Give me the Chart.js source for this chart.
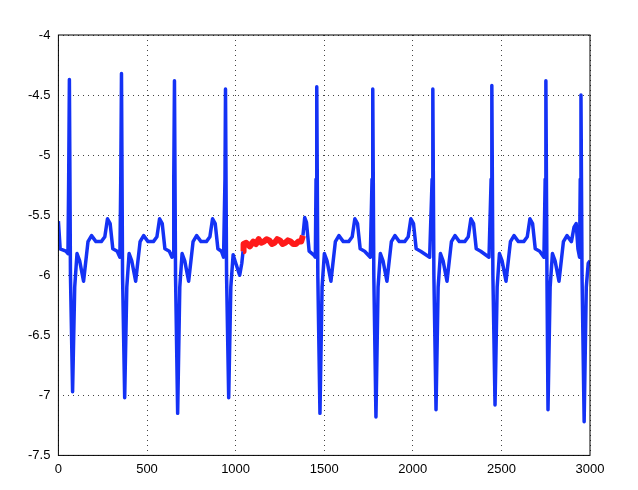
<!DOCTYPE html>
<html><head><meta charset="utf-8">
<script src="https://cdn.jsdelivr.net/npm/chart.js@4/dist/chart.umd.min.js"></script>
<style>body{margin:0;background:#fff}#wrap{width:638px;height:490px}</style>
</head><body><div id="wrap"><canvas id="c"></canvas></div>
<script>
const blueX = [0,10,42,54,58,62,68,80,92,105,120,142,167,187,212,242,262,277,292,307,332,347,
  352,356,362,374,386,399,414,436,461,481,506,536,556,571,586,601,626,641,
  647,651,655,661,673,685,698,713,735,760,780,805,835,855,870,885,900,920,932,
  940,943,949,961,973,986,1001,1023,1035,1042,1043,
  1380,1390,1400,1415,1440,1450,1454,1458,1464,1476,1488,1501,1516,1538,1563,1583,1608,1638,1658,1673,1688,1703,1728,1760,
  1770,1774,1780,1792,1804,1817,1832,1854,1879,1899,1924,1954,1974,1989,2004,2019,2044,2095,
  2109,2113,2119,2131,2143,2156,2171,2193,2218,2238,2263,2293,2313,2328,2343,2358,2383,2430,
  2442,2446,2452,2464,2476,2489,2504,2526,2551,2571,2596,2626,2646,2661,2676,2691,2716,2740,
  2747,2751,2757,2763,2775,2788,2803,2825,2850,2870,2895,2910,2922,2932,2941,2945,2949,2955,2967,2979,2990,3000];
const blueY = [-5.55,-5.78,-5.8,-5.82,-5.2,-4.37,-6.0,-6.97,-6.1,-5.82,-5.88,-6.05,-5.72,-5.67,-5.72,-5.72,-5.68,-5.53,-5.57,-5.78,-5.8,-5.85,
  -5.2,-4.32,-6.0,-7.02,-6.1,-5.82,-5.88,-6.05,-5.72,-5.67,-5.72,-5.72,-5.68,-5.53,-5.57,-5.78,-5.8,-5.85,
  -5.82,-5.2,-4.38,-6.0,-7.15,-6.1,-5.82,-5.88,-6.05,-5.72,-5.67,-5.72,-5.72,-5.68,-5.53,-5.57,-5.78,-5.8,-5.85,
  -5.2,-4.45,-6.0,-7.02,-6.1,-5.83,-5.9,-6.0,-5.9,-5.8,null,
  -5.67,-5.52,-5.56,-5.8,-5.83,-5.85,-5.2,-4.43,-6.0,-7.15,-6.1,-5.82,-5.88,-6.05,-5.72,-5.67,-5.72,-5.72,-5.68,-5.53,-5.57,-5.78,-5.8,-5.85,
  -5.2,-4.45,-6.0,-7.18,-6.1,-5.82,-5.88,-6.05,-5.72,-5.67,-5.72,-5.72,-5.68,-5.53,-5.57,-5.78,-5.8,-5.85,
  -5.2,-4.45,-6.0,-7.12,-6.1,-5.82,-5.88,-6.05,-5.72,-5.67,-5.72,-5.72,-5.68,-5.53,-5.57,-5.78,-5.8,-5.85,
  -5.2,-4.42,-6.0,-7.08,-6.1,-5.82,-5.88,-6.05,-5.72,-5.67,-5.72,-5.72,-5.68,-5.53,-5.57,-5.78,-5.8,-5.85,
  -5.2,-4.38,-6.0,-7.12,-6.1,-5.82,-5.88,-6.05,-5.72,-5.67,-5.72,-5.6,-5.57,-5.78,-5.85,-5.2,-4.5,-6.0,-7.22,-6.1,-5.9,-5.88];
const redX = [1042,1045,1060,1080,1100,1115,1130,1145,1160,1175,1190,1205,1220,1235,1250,1265,1280,1295,1310,1325,1340,1355,1370,1380];
const redY = [-5.8,-5.74,-5.73,-5.76,-5.72,-5.74,-5.7,-5.73,-5.72,-5.7,-5.71,-5.74,-5.73,-5.7,-5.71,-5.74,-5.73,-5.71,-5.72,-5.74,-5.74,-5.72,-5.72,-5.67];
const xTicks = [0,500,1000,1500,2000,2500,3000];
const yTicks = [-4,-4.5,-5,-5.5,-6,-6.5,-7,-7.5];

const pts = (xs, ys) => xs.map((x, i) => ({x, y: ys[i]}));
const boxPlugin = {
  id: 'box',
  afterDraw(chart) {
    const {ctx, chartArea: a} = chart;
    ctx.save(); ctx.strokeStyle = '#000'; ctx.lineWidth = 1;
    ctx.strokeRect(a.left, a.top, a.right - a.left, a.bottom - a.top);
    ctx.restore();
  }
};
const grid = {color: '#444', lineWidth: 1, drawTicks: false};
const border = {display: false, dash: [1, 4]};
const font = {family: 'Liberation Sans', size: 13};
new Chart(document.getElementById('c'), {
  type: 'line',
  data: { datasets: [
    {data: pts(redX, redY), borderColor: '#ff1a1a', borderWidth: 6, pointRadius: 0, tension: 0, borderJoinStyle: 'round'},
    {data: pts(blueX, blueY), borderColor: '#1432f5', borderWidth: 3.5, pointRadius: 0, tension: 0, spanGaps: false, borderJoinStyle: 'round'}
  ]},
  options: {
    animation: false, responsive: true, maintainAspectRatio: false,
    layout: {padding: {top: 35, right: 48, bottom: 7, left: 20}},
    plugins: {legend: {display: false}, tooltip: {enabled: false}},
    scales: {
      x: {type: 'linear', min: 0, max: 3000, grid, border,
        afterBuildTicks: s => { s.ticks = xTicks.map(v => ({value: v})); },
        ticks: {color: '#000', font, padding: 6, maxRotation: 0, callback: v => String(v)}},
      y: {min: -7.5, max: -4, grid, border,
        afterBuildTicks: s => { s.ticks = yTicks.map(v => ({value: v})); },
        ticks: {color: '#000', font, padding: 8, callback: v => String(v)}}
    }
  },
  plugins: [boxPlugin]
});
</script></body></html>
